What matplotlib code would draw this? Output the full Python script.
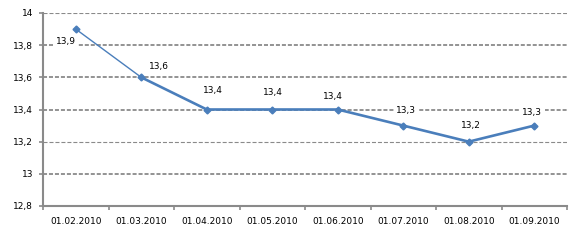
import matplotlib
matplotlib.use('Agg')
import matplotlib.pyplot as plt
from matplotlib.ticker import FuncFormatter, FixedLocator

dates = ['01.02.2010', '01.03.2010', '01.04.2010', '01.05.2010',
         '01.06.2010', '01.07.2010', '01.08.2010', '01.09.2010']
values = [13.9, 13.6, 13.4, 13.4, 13.4, 13.3, 13.2, 13.3]
y_ticks = [12.8, 13.0, 13.2, 13.4, 13.6, 13.8, 14.0]

# label offsets (pixels) relative to each point, like the Excel layout
label_offsets = [(-10, -12), (18, 11), (6, 19), (1, 17), (-5, 13), (3, 15), (2, 16), (-2, 13)]

grey = '#8a8a8a'
blue = '#4a7ebb'

W, H = 579, 242
fig = plt.figure(figsize=(W / 100, H / 100), dpi=100)
ax = fig.add_axes([43 / W, 1 - 206 / H, (567 - 43) / W, (206 - 13) / H])

x = list(range(len(values)))
ax.set_xlim(-0.5, len(values) - 0.5)
ax.set_ylim(12.8, 14.0)

# gridlines (the original renders some of them thinner)
for t in y_ticks[1:]:
    lw = 0.8 if t in (13.2, 14.0) else 1.3
    ax.axhline(t, color=grey, lw=lw, ls=(0, (2.9 / lw, 1.4 / lw)), zorder=1)

# series: first segment is drawn thinner in the original
ax.plot(x[:2], values[:2], color=blue, lw=1.0, zorder=3)
ax.plot(x[1:], values[1:], color=blue, lw=1.9, zorder=3)
ax.plot(x, values, ls='none', marker='D', ms=3.5, color=blue, zorder=4)

for xi, v, (dx, dy) in zip(x, values, label_offsets):
    ax.annotate(f'{v:.1f}'.replace('.', ','), (xi, v), xytext=(dx * 0.72, dy * 0.72),
                textcoords='offset points', ha='center', va='center',
                fontsize=6.5, color='black', zorder=5,
                bbox=dict(boxstyle='square,pad=0.25', fc='white', ec='none'))

for side in ['top', 'right']:
    ax.spines[side].set_visible(False)
for side in ['left', 'bottom']:
    ax.spines[side].set_color(grey)
    ax.spines[side].set_linewidth(1.5)

ax.set_yticks(y_ticks)
ax.yaxis.set_major_formatter(FuncFormatter(lambda v, p: f'{v:g}'.replace('.', ',')))
ax.tick_params(axis='y', length=3, width=1.2, color=grey, pad=4, labelsize=6.5)

ax.set_xticks(x)
ax.set_xticklabels(dates)
ax.xaxis.set_minor_locator(FixedLocator([i + 0.5 for i in range(-1, len(values))]))
ax.tick_params(axis='x', which='major', length=0, pad=8, labelsize=6.5)
ax.tick_params(axis='x', which='minor', length=3, width=1.2, color=grey)

fig.savefig('out.png', dpi=100)
